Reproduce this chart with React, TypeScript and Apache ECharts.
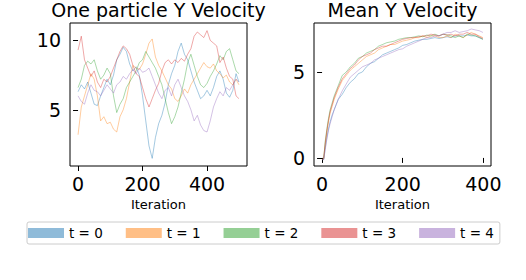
import React, { useEffect, useRef } from 'react';
import * as echarts from 'echarts';

const seriesNames = ['t = 0', 't = 1', 't = 2', 't = 3', 't = 4'];
const seriesColors = [
  'rgba(31,119,180,0.5)',
  'rgba(255,127,14,0.5)',
  'rgba(44,160,44,0.5)',
  'rgba(214,39,40,0.5)',
  'rgba(148,103,189,0.5)',
];

const leftTitle = 'One particle Y Velocity';
const rightTitle = 'Mean Y Velocity';
const xAxisTitle = 'Iteration';
const leftXTicks = [0, 200, 400];
const leftYTicks = [5, 10];
const rightXTicks = [0, 200, 400];
const rightYTicks = [0, 5];

const leftIter = [0, 10, 20, 30, 40, 50, 60, 70, 80, 90, 100, 110, 120, 130, 140, 150, 160, 170, 180, 190, 200, 210, 220, 230, 240, 250, 260, 270, 280, 290, 300, 310, 320, 330, 340, 350, 360, 370, 380, 390, 400, 410, 420, 430, 440, 450, 460, 470, 480, 490, 499];
const leftT0 = [6.3, 6.8, 6.5, 7.0, 6.2, 5.4, 5.3, 6.0, 6.6, 7.2, 6.8, 7.5, 8.6, 9.0, 9.5, 9.2, 8.3, 7.8, 8.1, 7.5, 6.0, 4.2, 2.4, 1.5, 3.0, 4.0, 4.6, 5.5, 6.8, 7.6, 8.2, 9.2, 9.8, 9.0, 8.6, 7.8, 7.0, 6.4, 5.8, 6.0, 6.4, 6.0, 6.6, 7.4, 7.8, 7.2, 6.2, 5.9, 6.4, 7.6, 7.0];
const leftT1 = [3.2, 5.2, 6.0, 6.8, 7.6, 7.2, 6.0, 4.2, 4.5, 4.0, 4.1, 3.6, 3.4, 4.5, 5.0, 5.8, 7.0, 8.2, 8.0, 7.9, 8.3, 9.0, 9.8, 10.1, 8.8, 8.2, 7.8, 7.3, 6.8, 6.5, 5.8, 5.6, 6.0, 6.5, 6.2, 6.8, 7.2, 7.6, 8.0, 8.4, 8.1, 8.0, 8.3, 7.8, 7.6, 7.3, 7.5, 7.0, 6.8, 7.2, 6.8];
const leftT2 = [6.6, 7.2, 8.2, 8.5, 8.3, 8.6, 7.8, 7.2, 7.5, 8.0, 7.6, 6.0, 4.8, 5.4, 5.8, 6.6, 7.0, 7.4, 7.8, 8.4, 8.6, 9.2, 8.8, 8.4, 8.0, 7.4, 6.8, 5.8, 4.8, 4.0, 4.5, 5.2, 6.2, 7.2, 8.4, 9.0, 8.2, 7.4, 6.8, 6.6, 6.9, 7.4, 7.8, 8.3, 8.9, 8.6, 9.2, 9.4, 8.6, 7.8, 7.6];
const leftT3 = [9.3, 10.3, 8.6, 8.0, 7.4, 7.8, 7.0, 6.6, 7.2, 7.0, 7.4, 8.0, 8.6, 9.2, 9.6, 9.4, 9.0, 8.2, 7.6, 7.4, 6.6, 5.8, 5.2, 5.8, 6.4, 6.9, 7.8, 8.4, 8.6, 8.3, 8.6, 8.4, 8.7, 8.5, 9.0, 9.4, 10.3, 10.6, 10.4, 10.2, 10.7, 10.0, 9.8, 9.6, 8.4, 8.8, 8.0, 7.4, 7.2, 6.0, 5.8];
const leftT4 = [6.0, 5.6, 5.4, 6.2, 6.8, 6.4, 6.3, 6.0, 6.4, 6.8, 6.5, 6.2, 6.8, 7.0, 7.4, 7.2, 7.6, 7.9, 7.6, 8.0, 7.7, 7.8, 8.0, 7.4, 6.8, 6.2, 5.8, 6.4, 6.6, 6.0, 6.8, 7.2, 6.6, 6.0, 5.6, 5.0, 4.2, 4.6, 3.9, 3.5, 3.4, 4.2, 5.2, 5.8, 6.3, 6.0, 6.6, 6.4, 6.8, 7.2, 7.0];

const rightIter = [0, 4, 8, 12, 16, 20, 25, 30, 35, 40, 50, 60, 70, 80, 90, 100, 110, 120, 130, 140, 150, 160, 170, 180, 190, 200, 210, 220, 230, 240, 250, 260, 270, 280, 290, 300, 310, 320, 330, 340, 350, 360, 370, 380, 390, 399];
const rightT0 = [-0.1, -0.1, 0.6, 1.2, 1.7, 2.1, 2.5, 2.8, 3.1, 3.4, 3.7, 4.1, 4.4, 4.6, 4.9, 5.0, 5.3, 5.5, 5.6, 5.8, 6.0, 6.1, 6.2, 6.3, 6.4, 6.55, 6.6, 6.7, 6.8, 6.85, 6.9, 6.9, 6.95, 7.0, 6.95, 7.0, 7.05, 7.0, 7.1, 7.1, 7.1, 7.15, 7.1, 7.1, 7.0, 6.9];
const rightT1 = [-0.1, 0.0, 0.8, 1.5, 2.1, 2.6, 3.0, 3.4, 3.7, 4.0, 4.5, 4.8, 5.1, 5.3, 5.5, 5.7, 5.9, 6.0, 6.1, 6.3, 6.4, 6.5, 6.6, 6.6, 6.7, 6.8, 6.85, 6.9, 7.0, 7.0, 7.1, 7.0, 7.1, 7.1, 7.0, 7.0, 7.1, 7.0, 7.2, 7.1, 7.0, 7.15, 7.3, 7.2, 7.1, 7.0];
const rightT2 = [-0.1, -0.05, 1.0, 1.7, 2.3, 2.8, 3.2, 3.6, 3.9, 4.2, 4.8, 5.0, 5.3, 5.5, 5.8, 5.9, 6.1, 6.2, 6.3, 6.5, 6.6, 6.7, 6.75, 6.8, 6.9, 6.95, 7.0, 7.0, 7.05, 7.1, 7.05, 7.15, 7.1, 7.2, 7.1, 7.2, 7.15, 7.1, 7.0, 7.1, 7.0, 7.2, 7.15, 7.1, 7.0, 6.9];
const rightT3 = [-0.1, -0.05, 0.9, 1.6, 2.2, 2.7, 3.1, 3.5, 3.8, 4.1, 4.6, 4.9, 5.2, 5.4, 5.7, 5.9, 6.0, 6.1, 6.3, 6.4, 6.5, 6.5, 6.6, 6.7, 6.8, 6.9, 6.95, 7.0, 7.0, 7.05, 7.1, 7.1, 7.2, 7.15, 7.1, 7.2, 7.15, 7.2, 7.1, 7.2, 7.2, 7.3, 7.2, 7.2, 7.05, 6.95];
const rightT4 = [-0.1, -0.1, 0.5, 1.1, 1.6, 2.0, 2.4, 2.8, 3.1, 3.4, 3.9, 4.3, 4.7, 4.9, 5.1, 5.3, 5.4, 5.5, 5.7, 5.8, 5.9, 6.0, 6.1, 6.2, 6.3, 6.35, 6.5, 6.6, 6.7, 6.8, 6.9, 7.0, 7.0, 7.1, 7.1, 7.2, 7.3, 7.3, 7.4, 7.3, 7.35, 7.4, 7.5, 7.45, 7.4, 7.3];

const captionLeft = '(left) Y velocity of one particle at the end';
const captionRight = 'of optimization. (right) Density of';

const FONT = 'DejaVu Sans';

export default function App() {
  const ref = useRef<HTMLDivElement>(null);
  useEffect(() => {
    if (!ref.current) return;
    const chart = echarts.init(ref.current, null, { renderer: 'svg' });
    const leftData = [leftT0, leftT1, leftT2, leftT3, leftT4];
    const rightData = [rightT0, rightT1, rightT2, rightT3, rightT4];
    const series: any[] = [];
    leftData.forEach((vals, i) => {
      series.push({
        type: 'line',
        name: seriesNames[i],
        xAxisIndex: 0,
        yAxisIndex: 0,
        data: vals.map((v, j) => [leftIter[j], v]),
        showSymbol: false,
        symbol: 'none',
        color: seriesColors[i],
        lineStyle: { width: 0.8, color: seriesColors[i] },
        itemStyle: { color: seriesColors[i] },
      });
    });
    rightData.forEach((vals, i) => {
      series.push({
        type: 'line',
        name: seriesNames[i],
        xAxisIndex: 1,
        yAxisIndex: 1,
        data: vals.map((v, j) => [rightIter[j], v]),
        showSymbol: false,
        symbol: 'none',
        color: seriesColors[i],
        lineStyle: { width: 0.8, color: seriesColors[i] },
        itemStyle: { color: seriesColors[i] },
      });
    });

    const axisLabel = (vals: number[], margin: number) => ({
      customValues: vals,
      fontSize: 19,
      fontFamily: FONT,
      color: '#000',
      margin,
    });
    const axisTick = (vals: number[]) => ({
      customValues: vals,
      length: 5,
      lineStyle: { color: '#000', width: 1 },
    });
    const xName = {
      name: xAxisTitle,
      nameLocation: 'middle' as const,
      nameGap: 31,
      nameTextStyle: { fontSize: 13, fontFamily: FONT, color: '#000' },
    };

    chart.setOption({
      animation: false,
      backgroundColor: '#fff',
      grid: [
        { left: 70, top: 23, width: 177, height: 143, show: true, borderColor: '#000', borderWidth: 1, backgroundColor: 'transparent' },
        { left: 314, top: 23, width: 177, height: 143, show: true, borderColor: '#000', borderWidth: 1, backgroundColor: 'transparent' },
      ],
      xAxis: [
        { type: 'value', gridIndex: 0, min: -25, max: 524, axisLine: { show: false }, splitLine: { show: false }, axisLabel: axisLabel(leftXTicks, 8), axisTick: axisTick(leftXTicks), ...xName },
        { type: 'value', gridIndex: 1, min: -20, max: 419, axisLine: { show: false }, splitLine: { show: false }, axisLabel: axisLabel(rightXTicks, 8), axisTick: axisTick(rightXTicks), ...xName },
      ],
      yAxis: [
        { type: 'value', gridIndex: 0, min: 0.95, max: 11.25, axisLine: { show: false }, splitLine: { show: false }, axisLabel: axisLabel(leftYTicks, 9), axisTick: axisTick(leftYTicks) },
        { type: 'value', gridIndex: 1, min: -0.47, max: 7.85, axisLine: { show: false }, splitLine: { show: false }, axisLabel: axisLabel(rightYTicks, 9), axisTick: axisTick(rightYTicks) },
      ],
      legend: {
        data: seriesNames,
        left: 27,
        top: 222,
        icon: 'rect',
        itemWidth: 36,
        itemHeight: 10,
        itemGap: 23,
        padding: [4, 6, 4, 1],
        borderColor: '#cccccc',
        borderWidth: 1,
        borderRadius: 2,
        textStyle: { fontSize: 13.5, fontFamily: FONT, color: '#000' },
      },
      graphic: [
        { type: 'text', x: 158.5, y: 10, style: { text: leftTitle, textAlign: 'center', textVerticalAlign: 'middle', fontSize: 19, fontFamily: FONT, fill: '#000' } },
        { type: 'text', x: 402.5, y: 10, style: { text: rightTitle, textAlign: 'center', textVerticalAlign: 'middle', fontSize: 19, fontFamily: FONT, fill: '#000' } },
        { type: 'text', x: 203, y: 298, style: { text: captionLeft, textAlign: 'right', textVerticalAlign: 'middle', fontSize: 27, fontFamily: 'Liberation Serif', fill: '#000' } },
        { type: 'text', x: 210, y: 298, style: { text: captionRight, textAlign: 'left', textVerticalAlign: 'middle', fontSize: 27, fontFamily: 'Liberation Serif', fill: '#000' } },
      ],
      series,
    });
    return () => chart.dispose();
  }, []);
  return <div ref={ref} style={{ position: 'fixed', left: 0, top: 0, width: 526, height: 280 }} />;
}
